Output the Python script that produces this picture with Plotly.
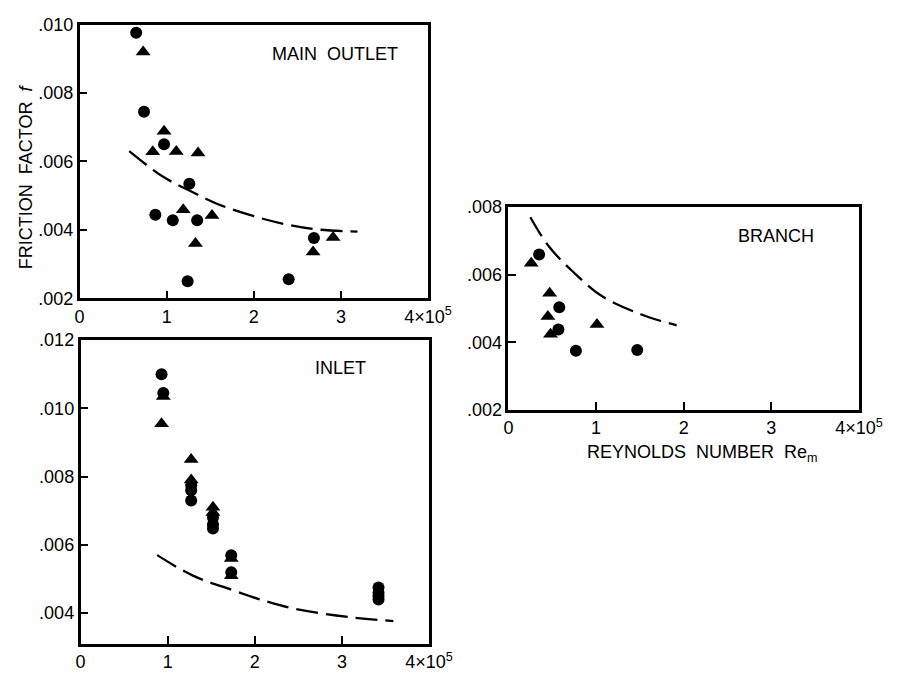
import plotly.graph_objects as go

# ---------------- DATA ----------------
# MAIN OUTLET
mo_circ_x = [0.65, 0.74, 0.97, 1.26, 0.87, 1.07, 1.35, 1.24, 2.40, 2.69]
mo_circ_y = [0.00976, 0.00745, 0.0065, 0.00535, 0.00444, 0.00428, 0.00428, 0.0025, 0.00256, 0.00376]
mo_tri_x = [0.73, 0.97, 0.84, 1.11, 1.36, 1.19, 1.52, 1.33, 2.68, 2.91]
mo_tri_y = [0.0092, 0.00688, 0.00628, 0.00629, 0.00625, 0.00459, 0.00442, 0.0036, 0.00335, 0.00378]
mo_curve_x = [0.57, 0.96, 1.3, 1.59, 2.0, 2.37, 2.7, 3.19]
mo_curve_y = [0.0063, 0.00555, 0.0051, 0.00475, 0.0044, 0.00416, 0.00402, 0.00395]

# INLET
in_circ_x = [0.93, 0.95, 1.27, 1.27, 1.27, 1.52, 1.52, 1.52, 1.73, 1.73, 3.42, 3.42, 3.42, 3.42]
in_circ_y = [0.0110, 0.01045, 0.00775, 0.0076, 0.0073, 0.0068, 0.0066, 0.00648, 0.0057, 0.0052,
             0.00475, 0.0046, 0.0045, 0.0044]
in_tri_x = [0.95, 0.93, 1.27, 1.27, 1.52, 1.52, 1.73, 1.73]
in_tri_y = [0.01035, 0.00955, 0.0085, 0.0079, 0.0071, 0.00695, 0.0056, 0.0051]
in_curve_x = [0.88, 1.29, 1.73, 2.1, 2.47, 3.07, 3.59]
in_curve_y = [0.0057, 0.0051, 0.00469, 0.00437, 0.00412, 0.00389, 0.00377]

# BRANCH
br_circ_x = [0.35, 0.58, 0.57, 0.77, 1.47]
br_circ_y = [0.0066, 0.00504, 0.00438, 0.00375, 0.00377]
br_tri_x = [0.26, 0.47, 0.45, 0.48, 1.01]
br_tri_y = [0.00634, 0.00545, 0.00476, 0.00424, 0.00453]
br_curve_x = [0.25, 0.46, 0.74, 1.07, 1.51, 1.92]
br_curve_y = [0.0077, 0.00684, 0.00608, 0.00536, 0.00483, 0.0045]

x_tickvals = [0, 1, 2, 3, 4]
x_ticktext = ["0", "1", "2", "3", "4×10<sup>5</sup>"]
mo_yticks = [0.002, 0.004, 0.006, 0.008, 0.010]
in_yticks = [0.004, 0.006, 0.008, 0.010, 0.012]
br_yticks = [0.002, 0.004, 0.006, 0.008]

# ---------------- FIGURE ----------------
W, H = 911, 684
FONT = "Liberation Sans, Arial, sans-serif"
fig = go.Figure()

panels = [
    ("x", "y", mo_circ_x, mo_circ_y, mo_tri_x, mo_tri_y, mo_curve_x, mo_curve_y),
    ("x2", "y2", in_circ_x, in_circ_y, in_tri_x, in_tri_y, in_curve_x, in_curve_y),
    ("x3", "y3", br_circ_x, br_circ_y, br_tri_x, br_tri_y, br_curve_x, br_curve_y),
]
for xa, ya, cx, cy, tx, ty, lx, ly in panels:
    fig.add_trace(go.Scatter(x=lx, y=ly, xaxis=xa, yaxis=ya, mode="lines",
                             line=dict(color="black", width=2.3, dash="22px,8px", shape="spline"),
                             showlegend=False, hoverinfo="skip"))
    fig.add_trace(go.Scatter(x=cx, y=cy, xaxis=xa, yaxis=ya, mode="markers",
                             marker=dict(symbol="circle", size=12, color="black"),
                             showlegend=False))
    fig.add_trace(go.Scatter(x=tx, y=ty, xaxis=xa, yaxis=ya, mode="markers",
                             marker=dict(symbol="triangle-up", size=13, color="black"),
                             showlegend=False))


def px_dom(a, b, total):
    return [a / total, b / total]


def py_dom(top, bottom):
    return [1 - bottom / H, 1 - top / H]


def xaxis(dom, anchor):
    return dict(domain=dom, anchor=anchor, range=[0, 4], tickvals=x_tickvals, ticktext=x_ticktext,
                ticks="inside", ticklen=8, tickwidth=2, tickcolor="black",
                showline=True, linecolor="black", linewidth=2.5, mirror=True,
                showgrid=False, zeroline=False,
                tickfont=dict(family=FONT, size=18, color="black"))


def yaxis(dom, anchor, rng, vals):
    return dict(domain=dom, anchor=anchor, range=rng, tickvals=vals,
                ticktext=[("%.3f" % v)[1:] for v in vals],
                ticks="inside", ticklen=8, tickwidth=2, tickcolor="black",
                showline=True, linecolor="black", linewidth=2.5, mirror=True,
                showgrid=False, zeroline=False,
                tickfont=dict(family=FONT, size=18, color="black"))


fig.update_layout(
    width=W, height=H, autosize=False,
    margin=dict(l=0, r=0, t=0, b=0),
    paper_bgcolor="white", plot_bgcolor="white",
    font=dict(family=FONT, color="black"),
    xaxis=xaxis(px_dom(77, 437, W), "y"),
    yaxis=yaxis(py_dom(15, 297), "x", [0.002, 0.010], mo_yticks),
    xaxis2=xaxis(px_dom(78, 438, W), "y2"),
    yaxis2=yaxis(py_dom(340, 653), "x2", [0.0031, 0.012], in_yticks),
    xaxis3=xaxis(px_dom(520, 882, W), "y3"),
    yaxis3=yaxis(py_dom(203, 412), "x3", [0.002, 0.008], br_yticks),
)

def ann(text, x, y, size=18, angle=0):
    fig.add_annotation(text=text, x=x / W, y=1 - y / H, xref="paper", yref="paper",
                       showarrow=False, textangle=angle, xanchor="center", yanchor="middle",
                       font=dict(family=FONT, size=size, color="black"))

ann("MAIN  OUTLET", 341, 45)
ann("INLET", 347, 369)
ann("BRANCH", 796, 233)
ann("REYNOLDS  NUMBER  Re<sub>m</sub>", 720, 457)
ann("FRICTION  FACTOR  <i>f</i>", 22, 172, angle=-90)

fig.write_html("out.html")
